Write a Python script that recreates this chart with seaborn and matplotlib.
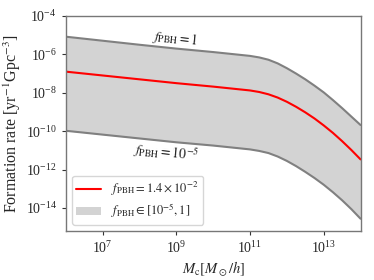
import numpy as np
import matplotlib
matplotlib.use("Agg")
import matplotlib.pyplot as plt
import seaborn as sns

# log10 of the halo mass M_c [M_sun/h]
log_mc = [6.0, 7.0, 8.0, 9.0, 10.0, 10.5, 11.0, 11.25, 11.5, 11.75, 12.0,
          12.25, 12.5, 12.75, 13.0, 13.25, 13.5, 13.75, 14.0]
# log10 of formation rate [yr^-1 Gpc^-3]
log_rate_f1 = [-5.08, -5.29, -5.50, -5.70, -5.88, -5.98, -6.08, -6.16, -6.28, -6.47, -6.72,
               -7.00, -7.30, -7.63, -7.98, -8.38, -8.80, -9.24, -9.68]
log_rate_best = [-6.90, -7.10, -7.30, -7.50, -7.68, -7.78, -7.88, -7.96, -8.08, -8.25, -8.47,
                 -8.73, -9.02, -9.34, -9.70, -10.09, -10.52, -10.98, -11.47]
log_rate_f1e5 = [-9.98, -10.18, -10.38, -10.58, -10.75, -10.85, -10.95, -11.03, -11.14, -11.32, -11.55,
                 -11.82, -12.12, -12.44, -12.79, -13.18, -13.60, -14.06, -14.56]

sns.set_style("ticks")
plt.rcParams["font.family"] = ["Liberation Serif", "DejaVu Serif"]
plt.rcParams["mathtext.fontset"] = "stix"

mc = 10.0 ** np.array(log_mc)
up = 10.0 ** np.array(log_rate_f1)
best = 10.0 ** np.array(log_rate_best)
low = 10.0 ** np.array(log_rate_f1e5)

fig = plt.figure(figsize=(3.74, 2.8), dpi=100)
ax = fig.add_axes([0.176, 0.175, 0.788, 0.768])

ax.fill_between(mc, low, up, color="lightgray", lw=0,
                label=r"$f_{\rm PBH}\in[10^{-5},1]$")
sns.lineplot(x=mc, y=up, color="gray", lw=1.5, ax=ax)
sns.lineplot(x=mc, y=low, color="gray", lw=1.5, ax=ax)
sns.lineplot(x=mc, y=best, color="red", lw=1.5, ax=ax,
             label=r"$f_{\rm PBH}=1.4\times10^{-2}$")

ax.set_xscale("log")
ax.set_yscale("log")
ax.set_xlim(1e6, 1e14)
ax.set_ylim(10 ** -15.2, 1e-4)
ax.set_xticks([1e7, 1e9, 1e11, 1e13])
ax.set_yticks([1e-14, 1e-12, 1e-10, 1e-8, 1e-6, 1e-4])
ax.minorticks_off()
ax.tick_params(labelsize=10, length=3, width=0.8, color="#333333")
for s in ax.spines.values():
    s.set_color("#777777")
    s.set_linewidth(1.0)

ax.set_xlabel(r"$M_{\rm c} [M_\odot/h]$", fontsize=10.5, labelpad=2)
ax.set_ylabel(r"Formation rate [yr$^{-1}$Gpc$^{-3}$]", fontsize=11.5, labelpad=2)

ax.text(10 ** 8.97, 10 ** -5.17, r"$f_{\rm PBH}=1$", fontsize=10,
        rotation=-6, ha="center", va="center")
ax.text(10 ** 8.7, 10 ** -11.1, r"$f_{\rm PBH}=10^{-5}$", fontsize=10,
        rotation=-6, ha="center", va="center")

h, l = ax.get_legend_handles_labels()
order = [l.index(r"$f_{\rm PBH}=1.4\times10^{-2}$"), l.index(r"$f_{\rm PBH}\in[10^{-5},1]$")]
ax.legend([h[i] for i in order], [l[i] for i in order], loc="lower left",
          fontsize=9, frameon=True, handlelength=2.0, borderpad=0.35,
          labelspacing=0.25)

fig.savefig("out.png", dpi=100)
